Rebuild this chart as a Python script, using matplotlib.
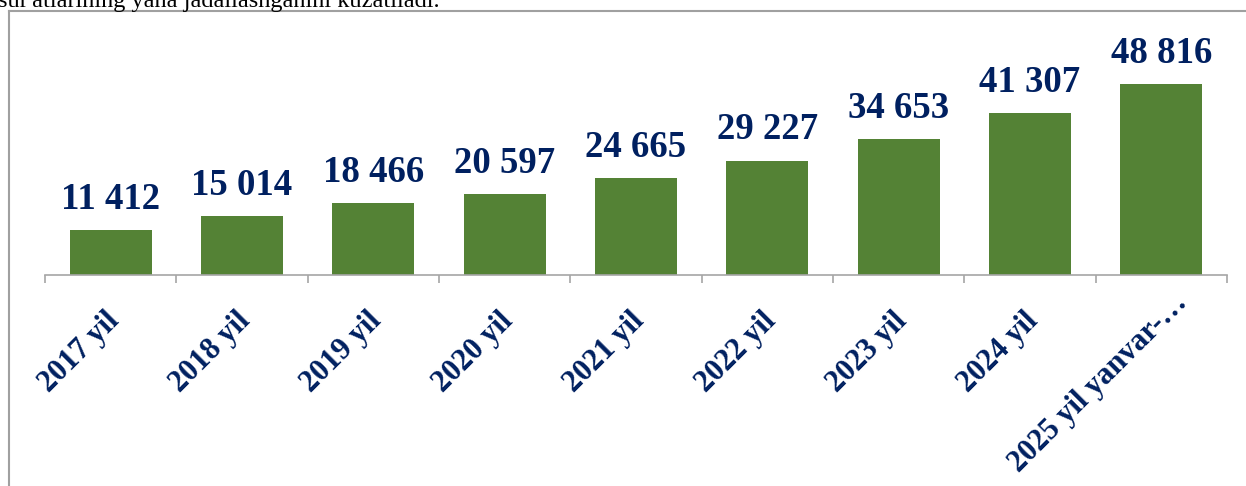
import matplotlib.pyplot as plt
from matplotlib.lines import Line2D
from matplotlib.transforms import ScaledTranslation

categories = ['2017 yil', '2018 yil', '2019 yil', '2020 yil', '2021 yil',
              '2022 yil', '2023 yil', '2024 yil', '2025 yil yanvar-\u2026']
values = [11412, 15014, 18466, 20597, 24665, 29227, 34653, 41307, 48816]
value_labels = ['11 412', '15 014', '18 466', '20 597', '24 665',
                '29 227', '34 653', '41 307', '48 816']

W, H = 1246, 486
navy = '#002060'
green = '#548235'
grey = '#A6A6A6'

plt.rcParams['font.family'] = ['Liberation Serif', 'DejaVu Serif']

fig = plt.figure(figsize=(W / 100, H / 100), dpi=100)
ax = fig.add_axes([45 / W, 1 - 275 / H, (1227 - 45) / W, (275 - 20) / H])

x = list(range(len(categories)))
ax.bar(x, values, width=0.625, color=green, zorder=2)
ax.set_xlim(-0.5, len(categories) - 0.5)
ax.set_ylim(0, 48816 * 255 / 191)

for xi, v, lab in zip(x, values, value_labels):
    ax.annotate(lab, (xi, v), xytext=(0, 9.5), textcoords='offset points',
                ha='center', va='bottom', fontsize=26.5, fontweight='bold',
                color=navy)

ax.set_xticks(x)
ax.set_xticklabels(categories, rotation=45, ha='right', va='center',
                   rotation_mode='anchor', fontsize=22, fontweight='bold',
                   color=navy)
ax.set_xticks([i - 0.5 for i in range(len(categories) + 1)], minor=True)
ax.tick_params(axis='x', which='major', length=0, pad=30)
ax.tick_params(axis='x', which='minor', length=6, width=1.2, color=grey)
ax.set_yticks([])
for side in ['left', 'right', 'top']:
    ax.spines[side].set_visible(False)
ax.spines['bottom'].set_color(grey)
ax.spines['bottom'].set_linewidth(1.2)

# nudge labels (after tick_params, which resets transforms)
labels = ax.get_xticklabels()
for lab in labels[:-1]:
    lab.set_transform(lab.get_transform() + ScaledTranslation(0.04, 0, fig.dpi_scale_trans))
labels[-1].set_transform(labels[-1].get_transform() + ScaledTranslation(0.22, 0.18, fig.dpi_scale_trans))

# frame around the chart
fig.add_artist(Line2D([8.5 / W, 8.5 / W], [0, 1 - 11 / H], color='#A0A0A0', lw=1.5))
fig.add_artist(Line2D([8.5 / W, 1], [1 - 11 / H, 1 - 11 / H], color='#A0A0A0', lw=1.5))

# cut-off text line above the chart
fig.text(-0.002, 1 - 7.5 / H, "sur'atlarining yana jadallashganini kuzatiladi.",
         ha='left', va='baseline', fontsize=17.5, color='black')

fig.savefig('out.png', dpi=100)
